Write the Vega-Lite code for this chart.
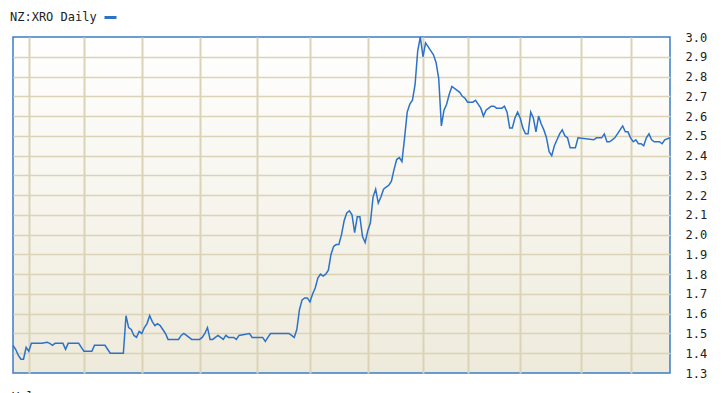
{
  "$schema": "https://vega.github.io/schema/vega-lite/v6.json",
  "autosize": {"type": "none"},
  "padding": {"left": 13, "top": 37, "right": 52, "bottom": 20},
  "width": 657,
  "height": 336,
  "background": "#ffffff",
  "title": {"text": "Volume", "orient": "bottom", "anchor": "start", "offset": 13, "dx": 2, "font": "DejaVu Sans Mono", "fontSize": 12, "fontWeight": "normal", "color": "#222222", "baseline": "top"},
  "config": {
    "view": {
      "fill": {"gradient": "linear", "x1": 0, "y1": 0, "x2": 0, "y2": 1, "stops": [{"offset": 0, "color": "#ffffff"}, {"offset": 1, "color": "#eeeadb"}]},
      "stroke": "#3b7dc6",
      "strokeWidth": 1.5
    }
  },
  "data": {"values": [
    {"d":0,"v":1.44},{"d":1,"v":1.42},{"d":2,"v":1.39},{"d":3,"v":1.37},{"d":4,"v":1.37},{"d":5,"v":1.43},{"d":6,"v":1.41},{"d":7,"v":1.45},{"d":9,"v":1.45},{"d":11,"v":1.45},{"d":13,"v":1.455},{"d":14,"v":1.45},{"d":15,"v":1.44},{"d":16,"v":1.45},{"d":19,"v":1.45},{"d":20,"v":1.42},{"d":21,"v":1.45},{"d":25,"v":1.45},{"d":26,"v":1.43},{"d":27,"v":1.41},{"d":30,"v":1.41},{"d":31,"v":1.44},{"d":35,"v":1.44},{"d":36,"v":1.42},{"d":37,"v":1.40},{"d":41,"v":1.40},{"d":42,"v":1.40},
    {"d":43,"v":1.59},{"d":44,"v":1.53},{"d":45,"v":1.52},{"d":46,"v":1.49},{"d":47,"v":1.48},{"d":48,"v":1.51},{"d":49,"v":1.50},{"d":50,"v":1.53},{"d":51,"v":1.55},{"d":52,"v":1.59},{"d":53,"v":1.56},{"d":54,"v":1.54},{"d":55,"v":1.55},{"d":56,"v":1.54},{"d":57,"v":1.52},{"d":58,"v":1.50},{"d":59,"v":1.47},{"d":63,"v":1.47},{"d":64,"v":1.49},{"d":65,"v":1.50},{"d":66,"v":1.49},{"d":67,"v":1.48},{"d":68,"v":1.47},{"d":71,"v":1.47},{"d":72,"v":1.48},{"d":73,"v":1.50},{"d":74,"v":1.53},{"d":75,"v":1.47},{"d":76,"v":1.47},{"d":77,"v":1.48},{"d":78,"v":1.49},{"d":79,"v":1.48},{"d":80,"v":1.47},{"d":81,"v":1.49},{"d":82,"v":1.48},{"d":84,"v":1.48},{"d":85,"v":1.47},{"d":86,"v":1.49},{"d":90,"v":1.50},{"d":91,"v":1.48},{"d":95,"v":1.48},{"d":96,"v":1.46},{"d":97,"v":1.48},{"d":98,"v":1.50},{"d":105,"v":1.50},{"d":106,"v":1.49},{"d":107,"v":1.48},
    {"d":108,"v":1.52},{"d":109,"v":1.62},{"d":110,"v":1.67},{"d":111,"v":1.68},{"d":112,"v":1.68},{"d":113,"v":1.66},{"d":114,"v":1.70},{"d":115,"v":1.73},{"d":116,"v":1.78},{"d":117,"v":1.80},{"d":118,"v":1.79},{"d":119,"v":1.80},{"d":120,"v":1.82},{"d":121,"v":1.90},{"d":122,"v":1.94},{"d":123,"v":1.95},{"d":124,"v":1.95},{"d":125,"v":2.00},{"d":126,"v":2.07},{"d":127,"v":2.11},{"d":128,"v":2.12},{"d":129,"v":2.10},{"d":130,"v":2.01},{"d":131,"v":2.09},{"d":132,"v":2.09},{"d":133,"v":1.99},{"d":134,"v":1.96},{"d":135,"v":2.02},{"d":136,"v":2.06},{"d":137,"v":2.19},{"d":138,"v":2.23},{"d":139,"v":2.16},{"d":140,"v":2.19},{"d":141,"v":2.23},{"d":142,"v":2.24},{"d":143,"v":2.25},{"d":144,"v":2.27},{"d":145,"v":2.33},{"d":146,"v":2.38},{"d":147,"v":2.39},{"d":148,"v":2.37},{"d":149,"v":2.49},{"d":150,"v":2.62},{"d":151,"v":2.66},{"d":152,"v":2.68},{"d":153,"v":2.76},{"d":154,"v":2.93},{"d":155,"v":3.00},{"d":156,"v":2.90},{"d":157,"v":2.97},{"d":158,"v":2.95},{"d":159,"v":2.93},{"d":160,"v":2.91},{"d":161,"v":2.87},{"d":162,"v":2.79},{"d":163,"v":2.55},
    {"d":164,"v":2.63},{"d":165,"v":2.66},{"d":166,"v":2.71},{"d":167,"v":2.75},{"d":168,"v":2.74},{"d":169,"v":2.73},{"d":170,"v":2.72},{"d":171,"v":2.70},{"d":172,"v":2.69},{"d":173,"v":2.67},{"d":174,"v":2.67},{"d":175,"v":2.67},{"d":176,"v":2.68},{"d":177,"v":2.66},{"d":178,"v":2.64},{"d":179,"v":2.60},{"d":180,"v":2.63},{"d":181,"v":2.64},{"d":182,"v":2.65},{"d":183,"v":2.65},{"d":184,"v":2.64},{"d":186,"v":2.64},{"d":187,"v":2.65},{"d":188,"v":2.62},{"d":189,"v":2.54},{"d":190,"v":2.54},{"d":191,"v":2.59},{"d":192,"v":2.62},{"d":193,"v":2.59},{"d":194,"v":2.54},{"d":195,"v":2.51},{"d":196,"v":2.51},{"d":197,"v":2.62},{"d":198,"v":2.59},{"d":199,"v":2.52},{"d":200,"v":2.60},{"d":201,"v":2.56},{"d":202,"v":2.53},{"d":203,"v":2.49},{"d":204,"v":2.42},{"d":205,"v":2.40},{"d":206,"v":2.45},{"d":207,"v":2.48},{"d":208,"v":2.51},{"d":209,"v":2.53},{"d":210,"v":2.50},{"d":211,"v":2.49},{"d":212,"v":2.44},{"d":214,"v":2.44},{"d":215,"v":2.49},{"d":221,"v":2.48},{"d":222,"v":2.49},{"d":224,"v":2.49},{"d":225,"v":2.51},{"d":226,"v":2.47},{"d":227,"v":2.47},{"d":228,"v":2.48},{"d":229,"v":2.49},{"d":230,"v":2.51},{"d":231,"v":2.53},{"d":232,"v":2.55},{"d":233,"v":2.52},{"d":234,"v":2.52},{"d":235,"v":2.49},{"d":236,"v":2.47},{"d":237,"v":2.48},{"d":238,"v":2.46},{"d":239,"v":2.46},{"d":240,"v":2.45},{"d":241,"v":2.49},{"d":242,"v":2.51},{"d":243,"v":2.48},{"d":244,"v":2.47},{"d":246,"v":2.47},{"d":247,"v":2.46},{"d":248,"v":2.48},{"d":250,"v":2.49}
  ]},
  "mark": {"type": "line", "strokeWidth": 1.5, "interpolate": "linear"},
  "encoding": {
    "x": {
      "field": "d", "type": "quantitative",
      "scale": {"domain": [0, 250], "nice": false, "zero": false},
      "axis": {"orient": "bottom", "title": null, "labels": false, "ticks": false, "domain": false, "grid": true, "gridColor": "#dad3b7", "gridWidth": 2, "values": [6, 27, 49, 71, 93, 113, 135, 156, 173, 193, 216, 235]}
    },
    "y": {
      "field": "v", "type": "quantitative",
      "scale": {"domain": [1.3, 3.0], "nice": false, "zero": false},
      "axis": {
        "orient": "right", "title": null, "ticks": false, "domain": false, "grid": true,
        "gridColor": "#dad3b7", "gridWidth": 1.6,
        "gridOpacity": {"condition": {"test": "datum.value < 1.35 || datum.value > 2.95", "value": 0}, "value": 1},
        "values": [1.3, 1.4, 1.5, 1.6, 1.7, 1.8, 1.9, 2.0, 2.1, 2.2, 2.3, 2.4, 2.5, 2.6, 2.7, 2.8, 2.9, 3.0],
        "format": ".1f", "labelPadding": 15, "labelFont": "DejaVu Sans Mono", "labelFontSize": 12, "labelColor": "#222222"
      }
    },
    "color": {
      "datum": "NZ:XRO Daily",
      "scale": {"range": ["#2c72c7"]},
      "legend": {
        "orient": "none", "legendX": -3, "legendY": -27, "padding": 0,
        "title": "NZ:XRO Daily", "titleOrient": "left", "titleFont": "DejaVu Sans Mono", "titleFontSize": 12, "titleFontWeight": "normal", "titleColor": "#222222", "titlePadding": 6,
        "labelExpr": "''", "symbolType": "stroke", "symbolStrokeWidth": 3, "symbolSize": 144
      }
    }
  }
}
